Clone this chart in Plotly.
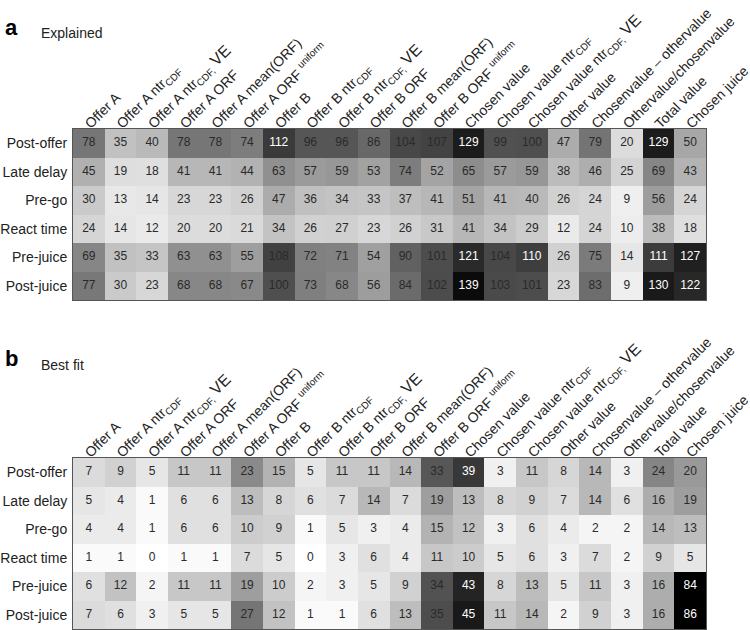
import plotly.graph_objects as go

rows = ["Post-offer", "Late delay", "Pre-go", "React time", "Pre-juice", "Post-juice"]

VE = '<span style="font-size:16px">VE</span>'
columns = [
    "Offer A",
    "Offer A ntr<sub>CDF</sub>",
    "Offer A ntr<sub>CDF,</sub> " + VE,
    "Offer A ORF",
    "Offer A mean(ORF)",
    "Offer A ORF <sup>uniform</sup>",
    "Offer B",
    "Offer B ntr<sub>CDF</sub>",
    "Offer B ntr<sub>CDF,</sub> " + VE,
    "Offer B ORF",
    "Offer B mean(ORF)",
    "Offer B ORF <sup>uniform</sup>",
    "Chosen value",
    "Chosen value ntr<sub>CDF</sub>",
    "Chosen value ntr<sub>CDF,</sub> " + VE,
    "Other value",
    "Chosenvalue – othervalue",
    "Othervalue/chosenvalue",
    "Total value",
    "Chosen juice",
]

explained = [
    [78, 35, 40, 78, 78, 74, 112, 96, 96, 86, 104, 107, 129, 99, 100, 47, 79, 20, 129, 50],
    [45, 19, 18, 41, 41, 44, 63, 57, 59, 53, 74, 52, 65, 57, 59, 38, 46, 25, 69, 43],
    [30, 13, 14, 23, 23, 26, 47, 36, 34, 33, 37, 41, 51, 41, 40, 26, 24, 9, 56, 24],
    [24, 14, 12, 20, 20, 21, 34, 26, 27, 23, 26, 31, 41, 34, 29, 12, 24, 10, 38, 18],
    [69, 35, 33, 63, 63, 55, 108, 72, 71, 54, 90, 101, 121, 104, 110, 26, 75, 14, 111, 127],
    [77, 30, 23, 68, 68, 67, 100, 73, 68, 56, 84, 102, 139, 103, 101, 23, 83, 9, 130, 122],
]

best_fit = [
    [7, 9, 5, 11, 11, 23, 15, 5, 11, 11, 14, 33, 39, 3, 11, 8, 14, 3, 24, 20],
    [5, 4, 1, 6, 6, 13, 8, 6, 7, 14, 7, 19, 13, 8, 9, 7, 14, 6, 16, 19],
    [4, 4, 1, 6, 6, 10, 9, 1, 5, 3, 4, 15, 12, 3, 6, 4, 2, 2, 14, 13],
    [1, 1, 0, 1, 1, 7, 5, 0, 3, 6, 4, 11, 10, 5, 6, 3, 7, 2, 9, 5],
    [6, 12, 2, 11, 11, 19, 10, 2, 3, 5, 9, 34, 43, 8, 13, 5, 11, 3, 16, 84],
    [7, 6, 3, 5, 5, 27, 12, 1, 1, 6, 13, 35, 45, 11, 14, 2, 9, 3, 16, 86],
]

FONT = "Arial, Liberation Sans, Helvetica, sans-serif"
gray = [[0, "#ffffff"], [1, "#000000"]]
xi = list(range(len(columns)))
yi = list(range(len(rows)))

fig = go.Figure()


def add_panel(z, zmax, thresh, xa, ya):
    fig.add_trace(go.Heatmap(z=z, x=xi, y=yi, colorscale=gray, zmin=0, zmax=zmax,
                             showscale=False, xaxis=xa, yaxis=ya, hoverinfo="skip"))
    tx, ty, tt, tc = [], [], [], []
    for r, row in enumerate(z):
        for c, v in enumerate(row):
            tx.append(c)
            ty.append(r)
            tt.append(str(v))
            tc.append("#ffffff" if v >= thresh else "#2a2a2a")
    fig.add_trace(go.Scatter(x=tx, y=ty, text=tt, mode="text", xaxis=xa, yaxis=ya,
                             textfont=dict(family=FONT, size=12, color=tc),
                             hoverinfo="skip", showlegend=False))


add_panel(explained, 145, 110, "x", "y")
add_panel(best_fit, 50, 36, "x2", "y2")

xdom = [73 / 750, 706 / 750]
common_x = dict(domain=xdom, range=[-0.5, 19.5], side="top", tickvals=xi, ticktext=columns,
                tickangle=-45, ticks="", showline=True, mirror=True, linecolor="#555555",
                linewidth=1, showgrid=False, zeroline=False, automargin=False,
                ticklabeloverflow="allow", ticklabelstandoff=-9, ticklabelshift=-3,
                tickfont=dict(family=FONT, size=14, color="#222222"))
common_y = dict(range=[5.5, -0.5], tickvals=yi, ticktext=rows, ticks="", showline=True,
                mirror=True, linecolor="#555555", linewidth=1, showgrid=False, zeroline=False,
                automargin=False, ticklabeloverflow="allow",
                tickfont=dict(family=FONT, size=14, color="#222222"), ticklabelstandoff=2)

fig.update_layout(
    width=750, height=630,
    margin=dict(l=0, r=0, t=0, b=0),
    paper_bgcolor="white", plot_bgcolor="white",
    showlegend=False,
    xaxis=dict(common_x, anchor="y"),
    yaxis=dict(common_y, domain=[1 - 300 / 630, 1 - 129 / 630], anchor="x"),
    xaxis2=dict(common_x, anchor="y2"),
    yaxis2=dict(common_y, domain=[1 - 629 / 630, 1 - 458 / 630], anchor="x2"),
    annotations=[
        dict(text="<b>a</b>", x=3 / 750, y=1 - 28 / 630, xref="paper", yref="paper",
             xanchor="left", yanchor="middle", showarrow=False,
             font=dict(family=FONT, size=22, color="#000000")),
        dict(text="Explained", x=39 / 750, y=1 - 33 / 630, xref="paper", yref="paper",
             xanchor="left", yanchor="middle", showarrow=False,
             font=dict(family=FONT, size=14, color="#222222")),
        dict(text="<b>b</b>", x=3 / 750, y=1 - 358 / 630, xref="paper", yref="paper",
             xanchor="left", yanchor="middle", showarrow=False,
             font=dict(family=FONT, size=22, color="#000000")),
        dict(text="Best fit", x=39 / 750, y=1 - 365 / 630, xref="paper", yref="paper",
             xanchor="left", yanchor="middle", showarrow=False,
             font=dict(family=FONT, size=14, color="#222222")),
    ],
)

fig.write_html("out.html", config={"displayModeBar": False},
               post_script="document.body.style.margin='0';document.body.style.overflow='hidden';")
